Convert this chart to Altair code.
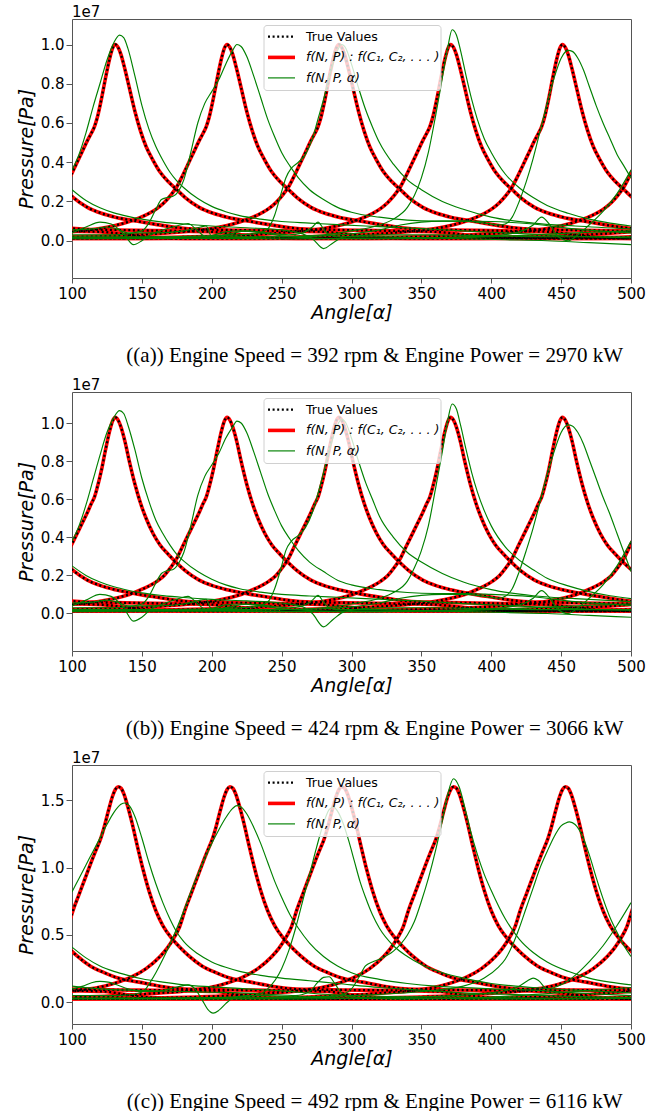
import altair as alt
import pandas as pd

# ---------------- axes / text ----------------
X_TICKS = [100, 150, 200, 250, 300, 350, 400, 450, 500]
Y_TICKS_AB = [0.0, 0.2, 0.4, 0.6, 0.8, 1.0]
Y_TICKS_C = [0.0, 0.5, 1.0, 1.5]
Y_DOMAIN_A = [-0.19, 1.13]
Y_DOMAIN_B = [-0.197, 1.163]
Y_DOMAIN_C = [-0.161, 1.762]
CAPTIONS = [
    "((a)) Engine Speed = 392 rpm & Engine Power = 2970 kW",
    "((b)) Engine Speed = 424 rpm & Engine Power = 3066 kW",
    "((c)) Engine Speed = 492 rpm & Engine Power = 6116 kW",
]
LEGEND_LABELS = ["True Values", "f(N, P) : f(C\u2081, C\u2082, . . . )", "f(N, P, \u03b1)"]

# ---------------- measured cylinder pressure profile (x 1e7 Pa) vs angle from TDC ----------------
REL = [-360, -300, -250, -200, -170, -150, -130, -115, -100, -90,
       -80, -70, -60, -50, -45, -40, -36, -32, -28, -24,
       -20, -17, -15, -13, -10, -7, -4, -2, 0, 2,
       4, 7, 10, 14, 18, 22, 27, 32, 38, 44,
       50, 60, 70, 80, 95, 110, 125, 140, 160, 200,
       230, 250, 265, 290, 360]
TRUE_A = [0.012, 0.012, 0.014, 0.018, 0.023, 0.028, 0.036, 0.044, 0.053, 0.063,
          0.078, 0.098, 0.125, 0.165, 0.195, 0.235, 0.275, 0.33, 0.39, 0.45,
          0.51, 0.55, 0.58, 0.625, 0.72, 0.83, 0.93, 0.98, 1.0, 0.985,
          0.95, 0.87, 0.78, 0.66, 0.56, 0.48, 0.41, 0.35, 0.30, 0.26,
          0.22, 0.17, 0.14, 0.12, 0.10, 0.082, 0.066, 0.058, 0.055, 0.05,
          0.045, 0.03, 0.018, 0.012, 0.012]
TRUE_B = [0.013, 0.013, 0.015, 0.019, 0.024, 0.029, 0.037, 0.045, 0.055, 0.065,
          0.08, 0.10, 0.13, 0.17, 0.20, 0.245, 0.29, 0.35, 0.41, 0.47,
          0.53, 0.58, 0.61, 0.66, 0.75, 0.86, 0.96, 1.01, 1.03, 1.015,
          0.98, 0.90, 0.80, 0.68, 0.58, 0.50, 0.42, 0.36, 0.31, 0.265,
          0.225, 0.175, 0.145, 0.125, 0.103, 0.085, 0.068, 0.06, 0.057, 0.052,
          0.046, 0.031, 0.019, 0.013, 0.013]
TRUE_C = [0.025, 0.025, 0.028, 0.035, 0.045, 0.055, 0.07, 0.08, 0.10, 0.12,
          0.15, 0.19, 0.25, 0.34, 0.40, 0.48, 0.56, 0.69, 0.80, 0.91,
          1.02, 1.10, 1.15, 1.20, 1.30, 1.42, 1.53, 1.58, 1.60, 1.59,
          1.55, 1.45, 1.33, 1.15, 0.98, 0.83, 0.68, 0.57, 0.48, 0.41,
          0.35, 0.27, 0.22, 0.18, 0.15, 0.12, 0.10, 0.095, 0.092, 0.088,
          0.08, 0.05, 0.035, 0.027, 0.025]
TDC_A = [51, 131, 211, 291, 371, 451, 531, 611, 691]
TDC_B = [51, 131, 211, 291, 371, 451, 531, 611, 691]
TDC_C = [53, 133, 213, 293, 373, 453, 533, 613, 693]

# ---------------- f(N,P,alpha) curves, one per cylinder (angle, x 1e7 Pa) ----------------
# panel (a)
GA1_X = [100, 110, 120, 130, 140, 150, 165, 180, 200, 225, 250, 265, 272, 280, 287, 295, 320, 360, 400, 450, 500]
GA1_Y = [0.26, 0.205, 0.168, 0.142, 0.124, 0.11, 0.095, 0.085, 0.075, 0.066, 0.055, 0.035, 0.01, -0.04, -0.01, 0.02, 0.03, 0.03, 0.025, 0.02, 0.02]
GA2_X = [100, 105, 110, 115, 120, 125, 130, 134, 137, 140, 145, 150, 155, 160, 165, 170, 175, 180, 190, 200, 210, 220, 235, 250, 270, 290, 320, 350, 380, 410, 440, 470, 500]
GA2_Y = [0.36, 0.44, 0.55, 0.68, 0.80, 0.92, 1.01, 1.048, 1.035, 0.98, 0.84, 0.69, 0.57, 0.48, 0.41, 0.35, 0.305, 0.27, 0.215, 0.175, 0.148, 0.128, 0.11, 0.098, 0.09, 0.082, 0.072, 0.062, 0.05, 0.04, 0.03, 0.02, 0.015]
GA3_X = [100, 130, 150, 155, 160, 164, 168, 172, 176, 180, 185, 190, 195, 200, 205, 210, 215, 218, 221, 225, 230, 235, 240, 245, 250, 256, 262, 270, 280, 290, 300, 320, 340, 360, 380, 400, 430, 460, 500]
GA3_Y = [0.03, 0.03, 0.05, 0.09, 0.16, 0.21, 0.22, 0.225, 0.25, 0.31, 0.45, 0.60, 0.70, 0.76, 0.82, 0.90, 0.97, 1.0, 0.99, 0.94, 0.84, 0.73, 0.62, 0.53, 0.45, 0.38, 0.32, 0.26, 0.21, 0.17, 0.145, 0.12, 0.105, 0.10, 0.10, 0.098, 0.085, 0.06, 0.04]
GA4_X = [100, 150, 200, 230, 240, 245, 250, 253, 257, 262, 267, 272, 276, 280, 285, 290, 293, 296, 300, 305, 310, 315, 320, 330, 340, 350, 365, 380, 400, 430, 460, 500]
GA4_Y = [0.02, 0.02, 0.025, 0.035, 0.06, 0.13, 0.25, 0.32, 0.37, 0.40, 0.44, 0.52, 0.62, 0.72, 0.86, 0.97, 1.0, 0.98, 0.90, 0.78, 0.67, 0.58, 0.50, 0.39, 0.31, 0.26, 0.20, 0.16, 0.12, 0.09, 0.075, 0.06]
GA5_X = [100, 200, 250, 280, 300, 320, 330, 340, 345, 350, 355, 360, 365, 369, 372, 375, 378, 382, 386, 390, 395, 400, 410, 420, 430, 440, 455, 470, 485, 500]
GA5_Y = [0.015, 0.015, 0.02, 0.03, 0.05, 0.08, 0.11, 0.17, 0.23, 0.32, 0.45, 0.63, 0.83, 0.99, 1.075, 1.05, 0.97, 0.84, 0.72, 0.62, 0.52, 0.45, 0.34, 0.27, 0.22, 0.18, 0.14, 0.11, 0.09, 0.075]
GA6_X = [100, 150, 200, 250, 280, 300, 320, 335, 350, 365, 380, 395, 405, 410, 415, 420, 425, 430, 435, 440, 445, 450, 455, 458, 462, 466, 470, 475, 480, 485, 490, 495, 500]
GA6_Y = [0.015, 0.015, 0.02, 0.02, 0.025, 0.035, 0.055, 0.08, 0.095, 0.10, 0.10, 0.09, 0.08, 0.085, 0.12, 0.20, 0.30, 0.42, 0.56, 0.70, 0.83, 0.93, 0.97, 0.965, 0.93, 0.87, 0.79, 0.69, 0.60, 0.52, 0.44, 0.38, 0.32]
GA7_X = [100, 150, 200, 250, 300, 350, 400, 420, 430, 436, 442, 448, 455, 462, 470, 480, 490, 500]
GA7_Y = [0.01, 0.012, 0.012, 0.01, 0.012, 0.015, 0.025, 0.045, 0.08, 0.12, 0.08, 0.02, 0.0, 0.03, 0.08, 0.15, 0.24, 0.36]
GA8_X = [100, 110, 120, 128, 137, 144, 150, 156, 165, 175, 183, 190, 196, 202, 210, 220, 235, 250, 270, 290, 320, 360, 400, 430, 460, 480, 500]
GA8_Y = [0.04, 0.07, 0.095, 0.085, 0.035, -0.02, 0.0, 0.03, 0.055, 0.075, 0.088, 0.05, 0.02, 0.03, 0.045, 0.05, 0.04, 0.025, 0.015, 0.01, 0.01, 0.012, 0.02, 0.03, 0.04, 0.045, 0.05]
GA9_X = [100, 115, 125, 132, 140, 160, 180, 192, 196, 200, 210, 225, 240, 255, 265, 272, 276, 280, 284, 290, 300, 320, 350, 380, 410, 440, 470, 500]
GA9_Y = [0.055, 0.06, 0.07, 0.06, 0.04, 0.04, 0.05, 0.07, 0.075, 0.02, 0.03, 0.05, 0.04, 0.03, 0.04, 0.07, 0.095, 0.06, 0.03, 0.02, 0.02, 0.02, 0.015, 0.01, 0.005, 0.0, -0.01, -0.02]

# panel (b)
GB1_X = [100, 110, 120, 130, 140, 150, 165, 180, 200, 225, 250, 265, 272, 280, 287, 295, 320, 360, 400, 450, 500]
GB1_Y = [0.25, 0.20, 0.165, 0.14, 0.122, 0.108, 0.094, 0.084, 0.074, 0.066, 0.055, 0.035, 0.0, -0.07, -0.03, 0.01, 0.03, 0.03, 0.025, 0.02, 0.02]
GB2_X = [100, 105, 110, 115, 120, 125, 130, 134, 137, 140, 145, 150, 155, 160, 165, 170, 175, 180, 190, 200, 210, 220, 235, 250, 270, 290, 320, 350, 380, 410, 440, 470, 500]
GB2_Y = [0.38, 0.46, 0.57, 0.70, 0.83, 0.95, 1.03, 1.065, 1.05, 0.99, 0.86, 0.71, 0.59, 0.49, 0.42, 0.36, 0.31, 0.275, 0.22, 0.18, 0.15, 0.13, 0.112, 0.10, 0.092, 0.085, 0.075, 0.065, 0.052, 0.042, 0.032, 0.022, 0.017]
GB3_X = [100, 130, 150, 155, 160, 164, 168, 172, 176, 180, 185, 190, 195, 200, 205, 210, 215, 218, 221, 225, 230, 235, 240, 245, 250, 256, 262, 270, 280, 290, 300, 320, 340, 360, 380, 400, 430, 460, 500]
GB3_Y = [0.03, 0.03, 0.05, 0.09, 0.16, 0.21, 0.225, 0.23, 0.26, 0.32, 0.46, 0.62, 0.72, 0.78, 0.84, 0.92, 0.98, 1.01, 1.0, 0.95, 0.85, 0.74, 0.63, 0.54, 0.46, 0.39, 0.33, 0.27, 0.22, 0.175, 0.15, 0.125, 0.11, 0.105, 0.105, 0.10, 0.088, 0.062, 0.042]
GB4_X = [100, 150, 200, 230, 240, 245, 250, 253, 257, 262, 267, 272, 276, 280, 285, 290, 293, 296, 300, 305, 310, 315, 320, 330, 340, 350, 365, 380, 400, 430, 460, 500]
GB4_Y = [0.02, 0.02, 0.025, 0.035, 0.06, 0.13, 0.25, 0.33, 0.38, 0.41, 0.45, 0.53, 0.63, 0.74, 0.88, 0.99, 1.02, 1.0, 0.92, 0.80, 0.69, 0.60, 0.51, 0.40, 0.32, 0.27, 0.21, 0.165, 0.125, 0.093, 0.078, 0.062]
GB5_X = [100, 200, 250, 280, 300, 320, 330, 340, 345, 350, 355, 360, 365, 369, 372, 375, 378, 382, 386, 390, 395, 400, 410, 420, 430, 440, 455, 470, 485, 500]
GB5_Y = [0.015, 0.015, 0.02, 0.03, 0.05, 0.08, 0.11, 0.17, 0.24, 0.33, 0.46, 0.65, 0.85, 1.02, 1.10, 1.075, 0.99, 0.86, 0.74, 0.64, 0.54, 0.46, 0.35, 0.28, 0.23, 0.185, 0.145, 0.115, 0.093, 0.078]
GB6_X = [100, 150, 200, 250, 280, 300, 320, 335, 350, 365, 380, 395, 405, 410, 415, 420, 425, 430, 435, 440, 445, 450, 455, 458, 462, 466, 470, 475, 480, 485, 490, 495, 500]
GB6_Y = [0.015, 0.015, 0.02, 0.02, 0.025, 0.035, 0.055, 0.08, 0.095, 0.10, 0.10, 0.09, 0.08, 0.09, 0.13, 0.22, 0.33, 0.45, 0.59, 0.73, 0.85, 0.95, 0.99, 0.985, 0.95, 0.89, 0.81, 0.71, 0.61, 0.52, 0.42, 0.32, 0.22]
GB7_X = [100, 150, 200, 250, 300, 350, 400, 420, 430, 436, 442, 448, 455, 462, 470, 480, 490, 500]
GB7_Y = [0.01, 0.012, 0.012, 0.01, 0.012, 0.015, 0.025, 0.045, 0.08, 0.12, 0.08, 0.02, 0.0, 0.03, 0.08, 0.15, 0.25, 0.38]
GB8_X = [100, 110, 120, 128, 137, 144, 150, 156, 165, 175, 183, 190, 196, 202, 210, 220, 235, 250, 270, 290, 320, 360, 400, 430, 460, 480, 500]
GB8_Y = [0.04, 0.07, 0.10, 0.09, 0.03, -0.04, -0.02, 0.02, 0.05, 0.075, 0.09, 0.05, 0.02, 0.03, 0.045, 0.05, 0.04, 0.025, 0.015, 0.01, 0.01, 0.012, 0.02, 0.03, 0.04, 0.045, 0.05]
GB9_X = [100, 115, 125, 132, 140, 160, 180, 192, 196, 200, 210, 225, 240, 255, 265, 272, 276, 280, 284, 290, 300, 320, 350, 380, 410, 440, 470, 500]
GB9_Y = [0.055, 0.06, 0.07, 0.06, 0.04, 0.04, 0.05, 0.07, 0.075, 0.02, 0.03, 0.05, 0.04, 0.03, 0.04, 0.07, 0.095, 0.06, 0.03, 0.02, 0.02, 0.02, 0.015, 0.01, 0.005, 0.0, -0.01, -0.02]

# panel (c)
GC1_X = [100, 110, 120, 130, 140, 150, 165, 180, 200, 225, 250, 280, 320, 360, 400, 450, 500]
GC1_Y = [0.41, 0.33, 0.27, 0.23, 0.20, 0.175, 0.15, 0.13, 0.115, 0.10, 0.085, 0.06, 0.045, 0.04, 0.035, 0.03, 0.03]
GC2_X = [100, 105, 110, 115, 120, 125, 130, 135, 138, 141, 145, 150, 155, 160, 165, 170, 175, 180, 190, 200, 210, 220, 235, 250, 270, 290, 320, 350, 380, 410, 440, 470, 500]
GC2_Y = [0.82, 0.92, 1.02, 1.12, 1.22, 1.32, 1.41, 1.47, 1.48, 1.46, 1.38, 1.22, 1.04, 0.88, 0.74, 0.62, 0.52, 0.45, 0.36, 0.30, 0.26, 0.23, 0.20, 0.18, 0.16, 0.14, 0.11, 0.09, 0.07, 0.06, 0.05, 0.04, 0.035]
GC3_X = [100, 130, 145, 152, 156, 160, 165, 170, 175, 180, 185, 190, 195, 200, 205, 210, 215, 218, 221, 225, 230, 235, 240, 245, 250, 256, 262, 270, 280, 290, 300, 320, 340, 360, 380, 400, 430, 460, 500]
GC3_Y = [0.05, 0.05, 0.06, 0.09, 0.15, 0.22, 0.32, 0.43, 0.55, 0.68, 0.82, 0.95, 1.07, 1.18, 1.28, 1.37, 1.44, 1.46, 1.45, 1.40, 1.30, 1.18, 1.04, 0.90, 0.78, 0.65, 0.55, 0.44, 0.34, 0.27, 0.22, 0.17, 0.14, 0.12, 0.11, 0.10, 0.09, 0.07, 0.05]
GC4_X = [100, 150, 200, 230, 240, 250, 255, 260, 265, 270, 275, 280, 284, 287, 290, 294, 298, 302, 306, 310, 315, 320, 330, 340, 350, 365, 380, 400, 430, 460, 500]
GC4_Y = [0.03, 0.03, 0.035, 0.05, 0.10, 0.25, 0.38, 0.55, 0.75, 0.95, 1.15, 1.33, 1.43, 1.45, 1.42, 1.33, 1.20, 1.05, 0.90, 0.78, 0.65, 0.55, 0.42, 0.34, 0.28, 0.22, 0.18, 0.14, 0.11, 0.09, 0.07]
GC5_X = [100, 200, 260, 290, 300, 305, 310, 315, 320, 330, 340, 345, 350, 355, 360, 365, 369, 373, 377, 381, 385, 390, 395, 400, 410, 420, 430, 440, 455, 470, 485, 500]
GC5_Y = [0.03, 0.03, 0.035, 0.05, 0.10, 0.18, 0.27, 0.30, 0.32, 0.38, 0.50, 0.60, 0.75, 0.92, 1.12, 1.35, 1.55, 1.66, 1.60, 1.45, 1.28, 1.10, 0.95, 0.83, 0.62, 0.47, 0.37, 0.30, 0.23, 0.18, 0.15, 0.13]
GC6_X = [100, 150, 200, 250, 300, 350, 380, 395, 405, 410, 415, 420, 425, 430, 435, 440, 445, 450, 453, 456, 460, 465, 470, 475, 480, 485, 490, 495, 500]
GC6_Y = [0.03, 0.03, 0.03, 0.035, 0.05, 0.08, 0.12, 0.18, 0.26, 0.32, 0.42, 0.55, 0.70, 0.85, 1.0, 1.12, 1.23, 1.31, 1.33, 1.34, 1.32, 1.24, 1.10, 0.93, 0.77, 0.63, 0.52, 0.42, 0.34]
GC7_X = [100, 150, 200, 250, 300, 350, 400, 420, 426, 430, 434, 440, 450, 460, 470, 480, 490, 500]
GC7_Y = [0.025, 0.025, 0.025, 0.025, 0.03, 0.04, 0.07, 0.12, 0.16, 0.18, 0.16, 0.10, 0.13, 0.20, 0.30, 0.42, 0.57, 0.74]
GC8_X = [100, 108, 114, 120, 126, 132, 140, 150, 160, 170, 178, 183, 188, 193, 197, 201, 205, 210, 215, 225, 240, 260, 280, 300, 340, 380, 420, 460, 500]
GC8_Y = [0.10, 0.12, 0.145, 0.155, 0.15, 0.13, 0.10, 0.08, 0.08, 0.10, 0.12, 0.13, 0.10, 0.02, -0.05, -0.08, -0.06, -0.01, 0.03, 0.05, 0.05, 0.04, 0.035, 0.03, 0.025, 0.03, 0.05, 0.08, 0.11]
GC9_X = [100, 120, 140, 160, 180, 200, 220, 240, 260, 270, 276, 280, 284, 288, 292, 300, 320, 350, 400, 450, 500]
GC9_Y = [0.12, 0.10, 0.09, 0.085, 0.08, 0.075, 0.07, 0.06, 0.05, 0.08, 0.15, 0.185, 0.19, 0.14, 0.08, 0.04, 0.03, 0.03, 0.025, 0.025, 0.03]

GREEN_A = [(GA1_X, GA1_Y), (GA2_X, GA2_Y), (GA3_X, GA3_Y), (GA4_X, GA4_Y), (GA5_X, GA5_Y),
           (GA6_X, GA6_Y), (GA7_X, GA7_Y), (GA8_X, GA8_Y), (GA9_X, GA9_Y)]
GREEN_B = [(GB1_X, GB1_Y), (GB2_X, GB2_Y), (GB3_X, GB3_Y), (GB4_X, GB4_Y), (GB5_X, GB5_Y),
           (GB6_X, GB6_Y), (GB7_X, GB7_Y), (GB8_X, GB8_Y), (GB9_X, GB9_Y)]
GREEN_C = [(GC1_X, GC1_Y), (GC2_X, GC2_Y), (GC3_X, GC3_Y), (GC4_X, GC4_Y), (GC5_X, GC5_Y),
           (GC6_X, GC6_Y), (GC7_X, GC7_Y), (GC8_X, GC8_Y), (GC9_X, GC9_Y)]

# ---------------- layout constants ----------------
W, H = 559, 259
RED = "#ff0000"
GREEN = "#008000"


def cycle_frame(rel, vals, tdcs):
    rows = []
    for ci, p in enumerate(tdcs):
        for m in (-1, 0, 1):
            xs = [r + p + 720 * m for r in rel]
            if max(xs) < 100 or min(xs) > 500:
                continue
            for x, v in zip(xs, vals):
                if 10 <= x <= 590:
                    rows.append({"seg": f"{ci}_{m}", "x": x, "y": v})
    return pd.DataFrame(rows)


def green_frame(curves):
    rows = []
    for ci, (xs, ys) in enumerate(curves):
        for x, y in zip(xs, ys):
            rows.append({"seg": f"g{ci}", "x": x, "y": y})
    return pd.DataFrame(rows)


def panel(true_vals, tdcs, greens, ydom, yticks, caption):
    xenc = alt.X("x:Q", scale=alt.Scale(domain=[100, 500], nice=False, zero=False),
                 axis=alt.Axis(values=X_TICKS, title="Angle[\u03b1]", format="d", labelFlush=False))
    yenc = alt.Y("y:Q", scale=alt.Scale(domain=ydom, nice=False, zero=False),
                 axis=alt.Axis(values=yticks, title="Pressure[Pa]", format=".1f", labelFlush=False))
    cyc = cycle_frame(REL, true_vals, tdcs)
    red = alt.Chart(cyc).mark_line(color=RED, strokeWidth=3.6, clip=True,
                                   interpolate="monotone").encode(x=xenc, y=yenc, detail="seg:N")
    blk = alt.Chart(cyc).mark_line(color="black", strokeWidth=2.3, strokeDash=[2, 2.6], clip=True,
                                   interpolate="monotone").encode(x=xenc, y=yenc, detail="seg:N")
    grn = alt.Chart(green_frame(greens)).mark_line(color=GREEN, strokeWidth=1.15, clip=True,
                                                   interpolate="monotone").encode(x=xenc, y=yenc, detail="seg:N")
    one = pd.DataFrame({"k": [0]})
    box = alt.Chart(one).mark_rect(fill="white", fillOpacity=0.8, stroke="#d0d0d0", strokeWidth=1,
                                   cornerRadius=3).encode(x=alt.value(192), x2=alt.value(369),
                                                          y=alt.value(6.5), y2=alt.value(71.5))
    rows_y = [17.7, 38.4, 58.9]
    l1 = alt.Chart(one).mark_rule(color="black", strokeWidth=2.3, strokeDash=[2, 2.6]).encode(
        x=alt.value(196), x2=alt.value(223), y=alt.value(rows_y[0]))
    l2 = alt.Chart(one).mark_rule(color=RED, strokeWidth=3.6).encode(
        x=alt.value(196), x2=alt.value(223), y=alt.value(rows_y[1]))
    l3 = alt.Chart(one).mark_rule(color=GREEN, strokeWidth=1.15).encode(
        x=alt.value(196), x2=alt.value(223), y=alt.value(rows_y[2]))
    t1 = alt.Chart(one).mark_text(align="left", baseline="middle", fontSize=12.6, font="DejaVu Sans",
                                  color="black").encode(x=alt.value(234), y=alt.value(rows_y[0]),
                                                        text=alt.value(LEGEND_LABELS[0]))
    t2 = alt.Chart(one).mark_text(align="left", baseline="middle", fontSize=12.6, font="DejaVu Sans",
                                  fontStyle="italic", color="black").encode(
        x=alt.value(234), y=alt.value(rows_y[1]), text=alt.value(LEGEND_LABELS[1]))
    t3 = alt.Chart(one).mark_text(align="left", baseline="middle", fontSize=12.6, font="DejaVu Sans",
                                  fontStyle="italic", color="black").encode(
        x=alt.value(234), y=alt.value(rows_y[2]), text=alt.value(LEGEND_LABELS[2]))
    e7 = alt.Chart(one).mark_text(align="left", baseline="alphabetic", fontSize=15, font="DejaVu Sans",
                                  color="black").encode(x=alt.value(0), y=alt.value(-2.5),
                                                        text=alt.value("1e7"))
    cap = alt.Chart(one).mark_text(align="center", baseline="middle", fontSize=21,
                                   font="Liberation Serif", color="black").encode(
        x=alt.value(302.7), y=alt.value(337), text=alt.value(caption))
    return alt.layer(red, blk, grn, box, l1, l2, l3, t1, t2, t3, e7, cap).properties(width=W, height=H)


pa = panel(TRUE_A, TDC_A, GREEN_A, Y_DOMAIN_A, Y_TICKS_AB, CAPTIONS[0])
pb = panel(TRUE_B, TDC_B, GREEN_B, Y_DOMAIN_B, Y_TICKS_AB, CAPTIONS[1])
pc = panel(TRUE_C, TDC_C, GREEN_C, Y_DOMAIN_C, Y_TICKS_C, CAPTIONS[2])

chart = alt.vconcat(pa, pb, pc, spacing=10).properties(
    padding={"left": 16, "top": 4, "right": 5, "bottom": 0}
).configure_view(stroke="#555555", strokeWidth=1).configure_axis(
    grid=False, domain=False, tickColor="#555555", tickSize=5, labelPadding=3,
    labelFont="DejaVu Sans", labelFontSize=15, labelColor="black",
    titleFont="DejaVu Sans", titleFontSize=19, titleFontStyle="italic", titleFontWeight="normal",
    titleColor="black"
).configure_axisY(titlePadding=4, tickSize=6, labelPadding=2).configure_axisX(titlePadding=2)

chart.save("out.html", embed_options={"renderer": "svg", "actions": False})
